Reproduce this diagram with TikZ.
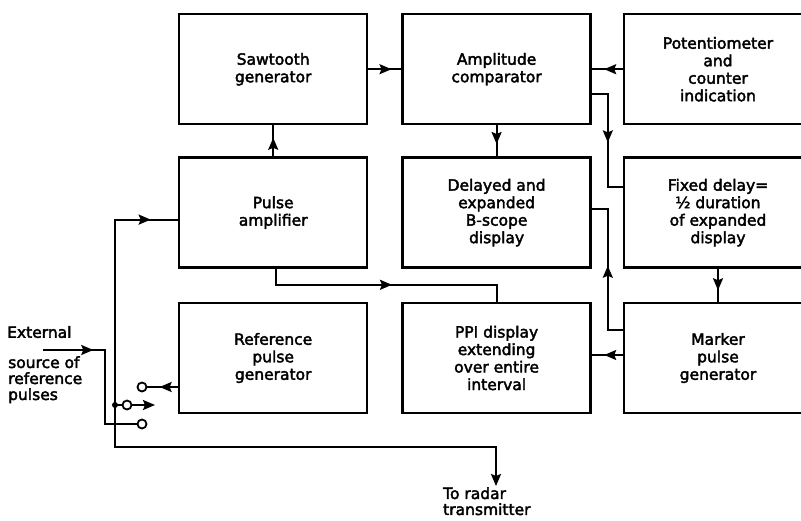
\documentclass[tikz,border=0pt]{standalone}
\usepackage{fontspec}
\setmainfont[FakeBold=2.5]{DejaVu Sans}
\usetikzlibrary{positioning,arrows.meta,decorations.markings}

\begin{document}
\begin{tikzpicture}[
    x=1pt, y=-1pt,
    blk/.style={draw, line width=2.4pt, minimum width=188pt, minimum height=110pt,
                align=center, inner sep=2pt, font=\fontsize{15.5}{17.5}\selectfont},
    lbl/.style={align=left, inner sep=0pt, font=\fontsize{15.5}{16}\selectfont},
    wire/.style={line width=2pt},
    tipat/.style={postaction={decorate}, decoration={markings,
                  mark=at position #1 with {\arrow{Stealth[length=12pt,width=10pt,inset=2pt]}}}},
    contact/.style={circle, draw, line width=1.8pt, fill=white,
                    inner sep=0pt, minimum size=9pt},
  ]
  \useasboundingbox (0,0) rectangle (801,520);

  % Row 1
  \node[blk, anchor=north west] (saw) at (178,13) {Sawtooth\\generator};
  \node[blk, right=33pt of saw] (amp) {Amplitude\\comparator};
  \node[blk, right=31pt of amp] (pot) {Potentiometer\\and\\counter\\indication};

  % Row 2
  \node[blk, below=31pt of saw] (pulse) {Pulse\\amplifier};
  \node[blk, below=31pt of amp] (del) {Delayed and\\expanded\\B-scope\\display};
  \node[blk, below=31pt of pot] (fix) {Fixed delay=\\½ duration\\of expanded\\display};

  % Row 3
  \node[blk, below=33pt of pulse] (ref) {Reference\\pulse\\generator};
  \node[blk, below=33pt of del] (ppi) {PPI display\\extending\\over entire\\interval};
  \node[blk, below=33pt of fix] (mark) {Marker\\pulse\\generator};

  % Free labels
  \node[lbl, anchor=west] (extA) at (7,332) {External};
  \node[lbl, anchor=north west] (extB) at (8,356) {source of\\reference\\pulses};
  \node[lbl, anchor=north west] (radar) at (443,487) {To radar\\transmitter};

  % Switch
  \coordinate (dot) at (115,405);
  \node[contact] (pole) at (127,405) {};
  \node[contact] (cup) at (142,387) {};
  \node[contact] (clo) at (142,424) {};
  \coordinate (swtip) at (155,405);
  \coordinate (extin) at (43,350);
  \coordinate (txend) at (496,486);

  % Arrows: top row
  \draw[wire, tipat=0.7] (saw) -- (amp);
  \draw[wire, tipat=0.6] (pot) -- (amp);
  \draw[wire, tipat=0.6] (amp) -- (del);
  \draw[wire, tipat=0.6] (pulse) -- (saw);

  % Arrows: delay chain
  \draw[wire, tipat=0.52] ([yshift=-25pt]amp.east) -- ++(16,0) |- ([yshift=26pt]fix.west);
  \draw[wire, tipat=0.65] (fix) -- (mark);
  \draw[wire, tipat=0.52] ([yshift=28pt]mark.west) -- ++(-15,0) |- ([yshift=4pt]del.east);
  \draw[wire, tipat=0.6] ([yshift=3pt]mark.west) -- ([yshift=3pt]ppi.east);
  \draw[wire, tipat=0.52] ([xshift=3pt]pulse.south) -- ++(0,16) -| (ppi.north);

  % Arrows: input side
  \draw[wire, tipat=0.3] (extin) -- ++(62,0) |- (clo);
  \draw[wire, tipat=0.6] (ref.west |- cup) -- (cup);
  \fill (dot) circle (3pt);
  \draw[wire] (dot) -- (pole);
  \draw[wire, -{Stealth[length=12pt,width=10pt,inset=2pt]}] (pole) -- (swtip);
  \draw[wire, tipat=0.89] (dot) |- ([yshift=-7pt]pulse.west);
  \draw[wire, -{Stealth[length=12pt,width=10pt,inset=2pt]}] (dot) -- ++(0,42) -| (txend);

\end{tikzpicture}
\end{document}
